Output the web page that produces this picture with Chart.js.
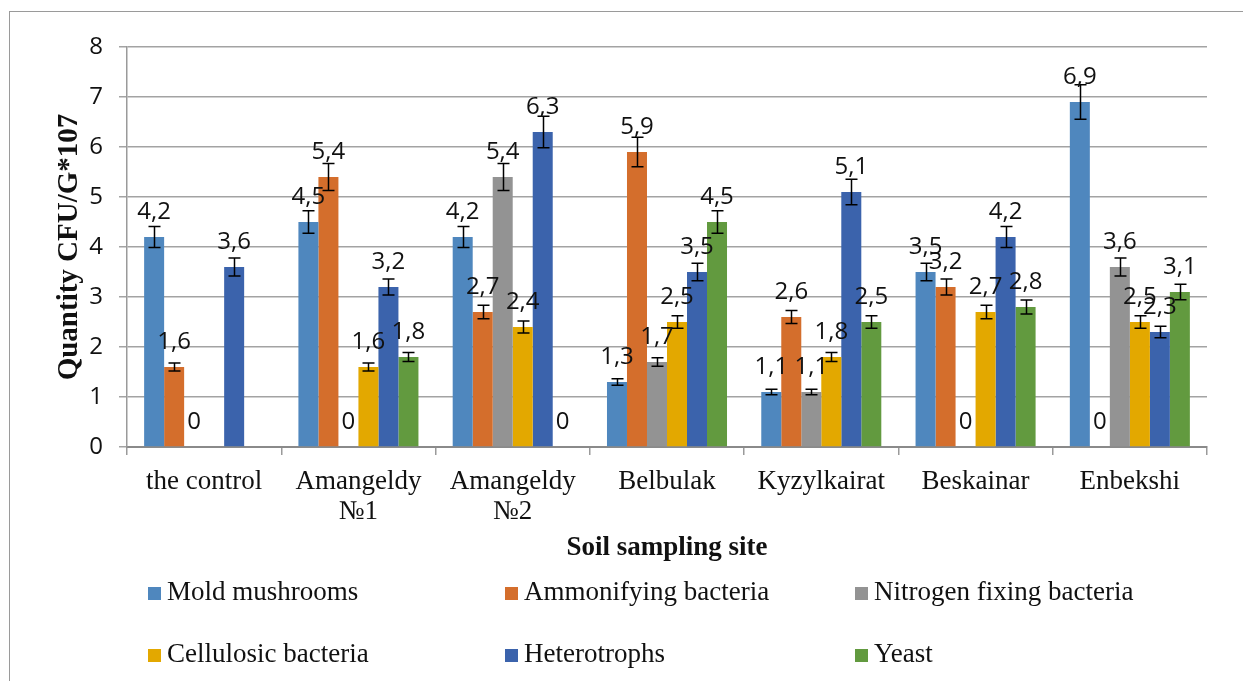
<!DOCTYPE html>
<html><head><meta charset="utf-8">
<script src="https://cdn.jsdelivr.net/npm/chart.js@4.4.1/dist/chart.umd.min.js"></script>
<style>
html,body{margin:0;padding:0;background:#fff;overflow:hidden}
#wrap{position:relative;width:1243px;height:681px;overflow:hidden}
#frame{position:absolute;left:9px;top:11px;width:1300px;height:700px;border-top:1.5px solid #9a9a9a;border-left:1.5px solid #9a9a9a}
canvas{position:absolute;left:0;top:0}
</style></head><body>
<div id="wrap"><div id="frame"></div><canvas id="c" width="1243" height="681"></canvas></div>
<script>
// ---- data ----
const categories = [['the control'], ['Amangeldy', '№1'], ['Amangeldy', '№2'], ['Belbulak'], ['Kyzylkairat'], ['Beskainar'], ['Enbekshi']];
const seriesNames = ['Mold mushrooms', 'Ammonifying bacteria', 'Nitrogen fixing bacteria', 'Cellulosic bacteria', 'Heterotrophs', 'Yeast'];
const moldMushrooms = [4.2, 4.5, 4.2, 1.3, 1.1, 3.5, 6.9];
const ammonifyingBacteria = [1.6, 5.4, 2.7, 5.9, 2.6, 3.2, 0];
const nitrogenFixingBacteria = [0, 0, 5.4, 1.7, 1.1, 0, 3.6];
const cellulosicBacteria = [null, 1.6, 2.4, 2.5, 1.8, 2.7, 2.5];
const heterotrophs = [3.6, 3.2, 6.3, 3.5, 5.1, 4.2, 2.3];
const yeast = [null, 1.8, 0, 4.5, 2.5, 2.8, 3.1];
const yTickValues = [0, 1, 2, 3, 4, 5, 6, 7, 8];
const errorPercent = 5;
const xTitle = 'Soil sampling site';
const yTitle = 'Quantity CFU/G*107';

const seriesValues = [moldMushrooms, ammonifyingBacteria, nitrogenFixingBacteria, cellulosicBacteria, heterotrophs, yeast];
const colors = ['#4F87BE', '#D46E2C', '#939393', '#E3A800', '#3B63AC', '#629A3F'];

const serif = '"Liberation Serif", "Times New Roman", serif';
const sans = '"Open Sans", "Liberation Sans", sans-serif';

const datasets = seriesValues.map((vals, i) => ({
  label: seriesNames[i],
  data: vals,
  backgroundColor: colors[i],
  borderWidth: 0,
  barPercentage: 1,
  categoryPercentage: 0.778
}));

const fmt = v => String(v).replace('.', ',');

const errorAndLabels = {
  id: 'errorAndLabels',
  afterDatasetsDraw(chart) {
    const ctx = chart.ctx;
    const y = chart.scales.y;
    ctx.save();
    ctx.strokeStyle = '#000';
    ctx.lineWidth = 1.5;
    chart.data.datasets.forEach((ds, di) => {
      const meta = chart.getDatasetMeta(di);
      ds.data.forEach((v, i) => {
        if (v === null || v === 0) return;
        const bar = meta.data[i];
        const e = v * errorPercent / 100;
        const yt = y.getPixelForValue(v + e), yb = y.getPixelForValue(v - e);
        const x = Math.round(bar.x) + 0.5;
        ctx.beginPath();
        ctx.moveTo(x, yt); ctx.lineTo(x, yb);
        ctx.moveTo(x - 6, yt); ctx.lineTo(x + 6, yt);
        ctx.moveTo(x - 6, yb); ctx.lineTo(x + 6, yb);
        ctx.stroke();
      });
    });
    ctx.fillStyle = '#111';
    ctx.font = '24px ' + sans;
    ctx.textAlign = 'center';
    ctx.textBaseline = 'alphabetic';
    chart.data.datasets.forEach((ds, di) => {
      const meta = chart.getDatasetMeta(di);
      ds.data.forEach((v, i) => {
        if (v === null) return;
        const bar = meta.data[i];
        ctx.fillText(fmt(v), bar.x, y.getPixelForValue(v) - 18);
      });
    });
    ctx.restore();
  }
};

const gridLegend = {
  id: 'gridLegend',
  afterDraw(chart) {
    const ctx = chart.ctx;
    const colX = [148, 505, 855];
    const rowBase = [600, 662];
    ctx.save();
    ctx.font = '27px ' + serif;
    ctx.textAlign = 'left';
    ctx.textBaseline = 'alphabetic';
    chart.data.datasets.forEach((ds, i) => {
      const cx = colX[i % 3], by = rowBase[Math.floor(i / 3)];
      ctx.fillStyle = ds.backgroundColor;
      ctx.fillRect(cx, by - 13, 13, 13);
      ctx.fillStyle = '#111';
      ctx.fillText(ds.label, cx + 19, by);
    });
    ctx.restore();
  }
};

new Chart(document.getElementById('c'), {
  type: 'bar',
  data: { labels: categories, datasets },
  options: {
    responsive: false,
    animation: false,
    devicePixelRatio: 1,
    layout: { padding: { left: 0, top: 47, right: 36, bottom: 117 } },
    plugins: { legend: { display: false }, tooltip: { enabled: false } },
    scales: {
      x: {
        afterFit(s) { s.height = 117; },
        grid: { drawOnChartArea: false, drawTicks: true, tickLength: 8, color: '#9a9a9a', lineWidth: 1.5 },
        border: { display: true, color: '#8a8a8a', width: 2 },
        ticks: { color: '#111', padding: 12, font: { family: serif, size: 27, lineHeight: 1.12 }, maxRotation: 0, autoSkip: false },
        title: { display: true, text: xTitle, color: '#111', padding: { top: 0, bottom: 0 }, font: { family: serif, size: 27, weight: 'bold', lineHeight: 1.2 } }
      },
      y: {
        afterFit(s) { s.width = 127; },
        min: 0, max: 8,
        afterBuildTicks(s) { s.ticks = yTickValues.map(v => ({ value: v })); },
        grid: { color: '#a3a3a3', lineWidth: 1.5, tickLength: 8 },
        border: { display: true, color: '#9a9a9a', width: 1.5 },
        ticks: { color: '#111', padding: 16, font: { family: sans, size: 24 }, callback: v => String(v) },
        title: { display: true, text: yTitle, color: '#111', padding: { top: 52, bottom: 0 }, font: { family: serif, size: 29, weight: 'bold', lineHeight: 1.2 } }
      }
    }
  },
  plugins: [errorAndLabels, gridLegend]
});
</script>
</body></html>
